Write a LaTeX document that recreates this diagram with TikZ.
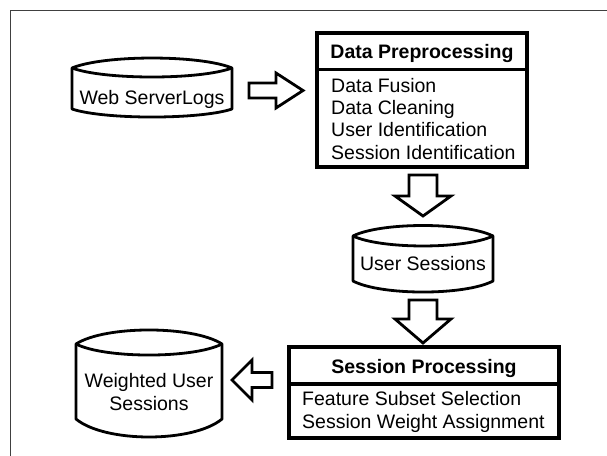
\documentclass[tikz,border=0pt]{standalone}
\usepackage{fontspec}
\setmainfont{Liberation Sans}
\usetikzlibrary{calc}
\begin{document}
\begin{tikzpicture}[x=1pt,y=-1pt,
  font=\fontsize{19.5}{22.5}\selectfont,
  frame/.style={draw=black!75, line width=1.6pt},
  cyl/.style={draw=black, line width=2.8pt, fill=white, line join=round},
  box/.style={draw=black, line width=3.2pt, fill=white, inner sep=0pt},
  barrow/.style={draw=black, line width=2.8pt, fill=white, line join=miter},
  txt/.style={inner sep=0pt, anchor=base},
  item/.style={inner sep=0pt, anchor=base west}
]
\useasboundingbox (0,0) rectangle (607,455);
\fill[white] (0,0) rectangle (607,455);
\draw[frame] (10.5,456) -- (10.5,10.5) -- (608,10.5);

% ---------- Web ServerLogs cylinder
\draw[cyl] (72,68) .. controls (104,54.7) and (200,54.7) .. (232,68) -- (232,109)
  .. controls (200,119.7) and (104,119.7) .. (72,109) -- cycle;
\draw[cyl] (72,68) .. controls (104,80) and (200,80) .. (232,68);
\node[txt] (web) at (152,104) {Web ServerLogs};

% ---------- Data Preprocessing box
\node[box, minimum width=210pt, minimum height=134pt] (pre) at (422,100) {};
\draw[line width=3.2pt] (317,69.5) -- (527,69.5);
\node[txt] (pretitle) at (422,58.5) {\bfseries Data Preprocessing};
\node[item] (p1) at (331,92) {Data Fusion};
\node[item] (p2) at (331,114) {Data Cleaning};
\node[item] (p3) at (331,136) {User Identification};
\node[item] (p4) at (331,159) {Session Identification};

% ---------- User Sessions cylinder
\draw[cyl] (353,236) .. controls (381,222) and (465,222) .. (493,236) -- (493,281)
  .. controls (465,295.7) and (381,295.7) .. (353,281) -- cycle;
\draw[cyl] (353,236) .. controls (381,249.3) and (465,249.3) .. (493,236);
\node[txt] (us) at (423,270.5) {User Sessions};

% ---------- Session Processing box
\node[box, minimum width=270pt, minimum height=91pt] (sp) at (424,392.5) {};
\draw[line width=3.2pt] (289,384) -- (559,384);
\node[txt] (sptitle) at (424,373) {\bfseries Session Processing};
\node[item] (s1) at (302,405.5) {Feature Subset Selection};
\node[item] (s2) at (302,428.5) {Session Weight Assignment};

% ---------- Weighted User Sessions cylinder
\draw[cyl] (76,344) .. controls (105,325.3) and (193,325.3) .. (222,344) -- (222,419)
  .. controls (193,443) and (105,443) .. (76,419) -- cycle;
\draw[cyl] (76,344) .. controls (105,358.7) and (193,358.7) .. (222,344);
\node[txt] (w1) at (149,387) {Weighted User};
\node[txt] (w2) at (149,410) {Sessions};

% ---------- block arrows
\draw[barrow] (249,83) -- (276,83) -- (276,73) -- (303,90.5) -- (276,108) -- (276,98) -- (249,98) -- cycle;
\draw[barrow] (409,175) -- (437,175) -- (437,196) -- (451,196) -- (423,216) -- (395,196) -- (409,196) -- cycle;
\draw[barrow] (409,300) -- (437,300) -- (437,319) -- (451,319) -- (423,343) -- (395,319) -- (409,319) -- cycle;
\draw[barrow] (272,372.5) -- (252,372.5) -- (252,360) -- (232,380) -- (252,400) -- (252,387.5) -- (272,387.5) -- cycle;
\end{tikzpicture}
\end{document}
